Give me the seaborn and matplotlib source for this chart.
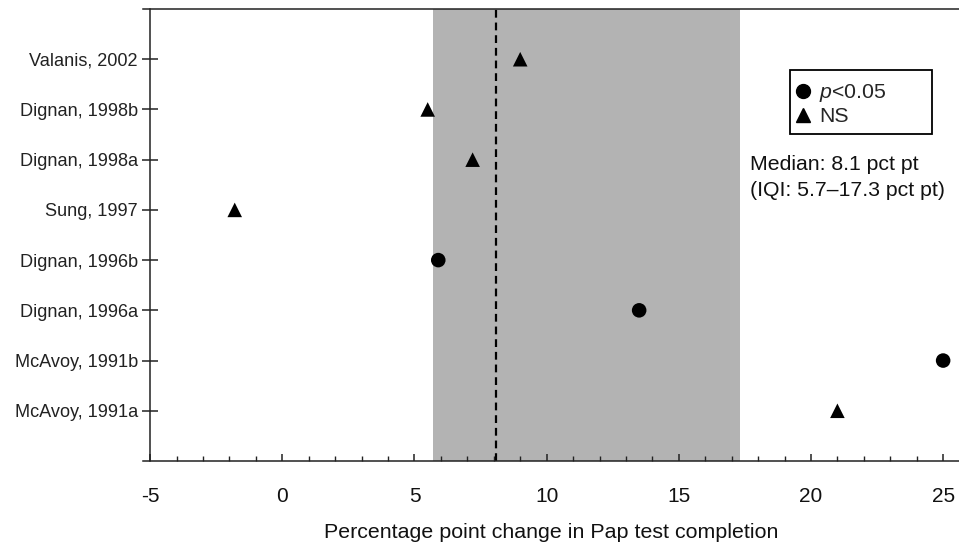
import matplotlib
matplotlib.use("Agg")
import matplotlib.pyplot as plt
from matplotlib.lines import Line2D
from matplotlib.patches import Rectangle
import seaborn as sns
import pandas as pd

# Studies listed top to bottom
studies = ["Valanis, 2002", "Dignan, 1998b", "Dignan, 1998a", "Sung, 1997",
           "Dignan, 1996b", "Dignan, 1996a", "McAvoy, 1991b", "McAvoy, 1991a"]
changes = [9.0, 5.5, 7.2, -1.8, 5.9, 13.5, 25.0, 21.0]
significance = ["NS", "NS", "NS", "NS", "p<0.05", "p<0.05", "p<0.05", "NS"]

median_change = 8.1
iqi_low, iqi_high = 5.7, 17.3
x_ticks = [-5, 0, 5, 10, 15, 20, 25]

sns.set_theme(style="white")
plt.rcParams["font.family"] = ["Liberation Sans", "DejaVu Sans"]
plt.rcParams["mathtext.fontset"] = "custom"
plt.rcParams["mathtext.rm"] = "Liberation Sans"
plt.rcParams["mathtext.it"] = "Liberation Sans:italic"

n = len(studies)
df = pd.DataFrame({
    "study": studies,
    "change": changes,
    "sig": significance,
    "pos": [n - i for i in range(n)],
})

W, H = 959, 548
fig = plt.figure(figsize=(W / 100, H / 100), dpi=100)
ax = fig.add_axes([143 / W, 1 - 461 / H, 1 - 143 / W, (461 - 9) / H])

# Interquartile interval and median
ax.axvspan(iqi_low, iqi_high, color="#b3b3b3", lw=0, zorder=0)
ax.axvline(median_change, color="black", lw=1.6, ls=(0, (3.5, 2.2)), zorder=1)

sns.scatterplot(data=df, x="change", y="pos", style="sig",
                markers={"p<0.05": "o", "NS": "^"},
                color="black", s=110, edgecolor="none", linewidth=0,
                legend=False, ax=ax, zorder=3)

ax.set_xlim(-5.27, 25.6)
ax.set_ylim(0, n + 1)
ax.spines["left"].set_position(("data", -5))
ax.spines["right"].set_visible(False)
for side in ["left", "bottom", "top"]:
    ax.spines[side].set_color("#222222")
    ax.spines[side].set_linewidth(1.1)

ax.set_yticks(df["pos"])
ax.set_yticklabels(df["study"], fontsize=13.1, color="#222222")
ax.tick_params(axis="y", left=True, direction="inout", length=11.5, width=1.1,
               color="#222222", pad=3)

ax.set_xticks(x_ticks)
ax.set_xticklabels([str(t) for t in x_ticks], fontsize=15, color="#111111")
ax.set_xticks([v for v in range(-4, 26) if v % 5 != 0], minor=True)
ax.tick_params(axis="x", which="major", direction="in", length=5, width=1.1,
               color="#222222", pad=19, bottom=True)
ax.tick_params(axis="x", which="minor", direction="in", length=3.3, width=1.0,
               color="#222222", bottom=True)

ax.set_xlabel("Percentage point change in Pap test completion", fontsize=15.4,
              color="#111111", labelpad=12)
ax.set_ylabel("")

# Legend with a fixed-size box
fig.patches.append(Rectangle((790 / W, 1 - 134 / H), 142 / W, 64 / H,
                             transform=fig.transFigure, fill=False,
                             edgecolor="black", lw=1.3, zorder=5))
handles = [
    Line2D([], [], marker="o", ls="none", color="black", markersize=10),
    Line2D([], [], marker="^", ls="none", color="black", markersize=10.5),
]
ax.legend(handles, ["$p$<0.05", "NS"], loc="upper left",
          bbox_to_anchor=(796 / W, 1 - 82 / H), bbox_transform=fig.transFigure,
          fontsize=15.3, frameon=False, handlelength=0.7, handletextpad=0.4,
          borderpad=0, labelspacing=0.15, borderaxespad=0)

fig.text(750 / W, 1 - 164 / H, "Median: 8.1 pct pt", fontsize=15.3,
         va="center", ha="left", color="#111111")
fig.text(750 / W, 1 - 191 / H, "(IQI: 5.7\u201317.3 pct pt)", fontsize=15.3,
         va="center", ha="left", color="#111111")

fig.savefig("out.png", dpi=100)
